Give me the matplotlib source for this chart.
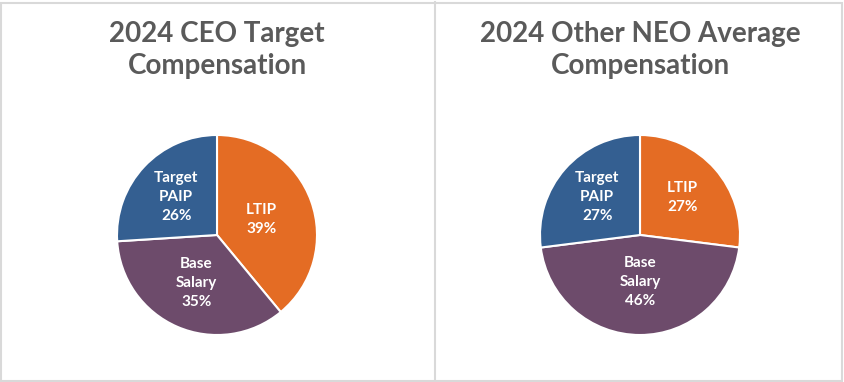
import matplotlib.pyplot as plt
from matplotlib.patches import Rectangle
from matplotlib.lines import Line2D
import numpy as np

# data
labels = ['LTIP', 'Base\nSalary', 'Target\nPAIP']
ceo_pct = [39, 35, 26]
neo_pct = [27, 46, 27]
titles = ['2024 CEO Target\nCompensation', '2024 Other NEO Average\nCompensation']
colors = ['#E46C24', '#6D4B6B', '#345F91']

W, H = 845, 382
fig = plt.figure(figsize=(W / 100, H / 100), dpi=100)
plt.rcParams['font.family'] = ['Lato', 'DejaVu Sans']

# panel frames
fig.add_artist(Rectangle((1.5 / W, 1.5 / H), (W - 4) / W, (H - 4) / H, transform=fig.transFigure,
                         fill=False, edgecolor='#D9D9D9', linewidth=1.5))
fig.add_artist(Line2D([435.5 / W, 435.5 / W], [1.5 / H, 1 - 1.5 / H], transform=fig.transFigure,
                      color='#D9D9D9', linewidth=1.5))

centers = [217, 640]
r = 102
cy = H - 235
label_dist = [[0.47, 0.52, 0.56], [0.57, 0.47, 0.57]]

for i, (vals, title) in enumerate(zip([ceo_pct, neo_pct], titles)):
    cx = centers[i]
    ax = fig.add_axes([(cx - r) / W, (cy - r) / H, 2 * r / W, 2 * r / H])
    wedges, _ = ax.pie(vals, colors=colors, startangle=90, counterclock=False,
                       wedgeprops=dict(edgecolor='white', linewidth=1.5))
    ax.set_xlim(-1.02, 1.02)
    ax.set_ylim(-1.02, 1.02)
    ax.set_aspect('equal')
    ax.axis('off')
    for w, lab, v, d in zip(wedges, labels, vals, label_dist[i]):
        ang = np.deg2rad((w.theta1 + w.theta2) / 2)
        ax.text(d * np.cos(ang), d * np.sin(ang), f'{lab}\n{v}%', ha='center', va='center',
                color='white', fontsize=11, fontweight='bold', linespacing=1.45)
    fig.text(cx / W, 1 - 50 / H, title, ha='center', va='center', fontsize=20,
             fontweight='bold', color='#5A5A5A', linespacing=1.3)

fig.savefig('out.png', dpi=100, facecolor='white')
